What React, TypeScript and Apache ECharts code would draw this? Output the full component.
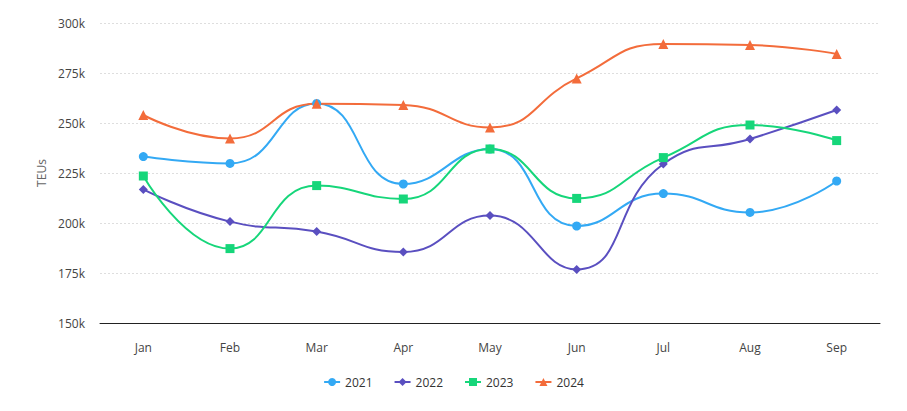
import React, { useEffect, useRef } from "react";
import * as echarts from "echarts";

const months = ["Jan", "Feb", "Mar", "Apr", "May", "Jun", "Jul", "Aug", "Sep"];
const s2021 = [233200, 229800, 259800, 219500, 237000, 198500, 214700, 205300, 221000];
const s2022 = [216800, 200700, 195700, 185500, 203700, 176800, 229500, 242000, 256500];
const s2023 = [223500, 187200, 218700, 212000, 237000, 212300, 232700, 249000, 241200];
const s2024 = [254000, 242300, 259600, 259000, 247800, 272300, 289500, 289000, 284500];
const seriesNames = ["2021", "2022", "2023", "2024"];
const colors = ["#33a9f4", "#5a4fc0", "#16d67a", "#f36c3b"];
const symbols = ["circle", "diamond", "rect", "triangle"];

export default function App() {
  const ref = useRef<HTMLDivElement>(null);
  useEffect(() => {
    if (!ref.current) return;
    const chart = echarts.init(ref.current, null, { renderer: "svg" });
    const font = "'Segoe UI', 'Open Sans', 'Noto Sans', sans-serif";
    const data = [s2021, s2022, s2023, s2024];
    chart.setOption({
      animation: false,
      textStyle: { fontFamily: font },
      color: colors,
      grid: { left: 92, right: 19, top: 15, bottom: 80 },
      legend: {
        bottom: 10,
        left: "center",
        itemWidth: 16,
        itemHeight: 10,
        itemGap: 21,
        textStyle: { color: "#333", fontSize: 12, fontFamily: font },
        data: seriesNames,
      },
      xAxis: {
        type: "category",
        data: months,
        boundaryGap: true,
        axisLine: { lineStyle: { color: "#222", width: 1 } },
        axisTick: { show: false },
        axisLabel: { color: "#444", fontSize: 12, margin: 18, fontFamily: font },
      },
      yAxis: {
        type: "value",
        min: 150000,
        max: 300000,
        interval: 25000,
        name: "TEUs",
        nameLocation: "middle",
        nameGap: 53,
        nameTextStyle: { color: "#666", fontSize: 12, fontFamily: font },
        axisLine: { show: false },
        axisTick: { show: false },
        axisLabel: {
          color: "#444",
          fontSize: 12,
          margin: 15,
          fontFamily: font,
          formatter: (v: number) => v / 1000 + "k",
        },
        splitLine: { lineStyle: { color: "#dedede", type: [2, 2], width: 1 } },
      },
      series: seriesNames.map((n, i) => ({
        name: n,
        type: "line",
        data: data[i],
        smooth: true,
        symbol: symbols[i],
        symbolSize: i === 3 ? 10 : 9,
        lineStyle: { width: 2, color: colors[i] },
        itemStyle: { color: colors[i] },
      })),
    });
    return () => chart.dispose();
  }, []);
  return <div ref={ref} style={{ width: 891, height: 395 }} />;
}
